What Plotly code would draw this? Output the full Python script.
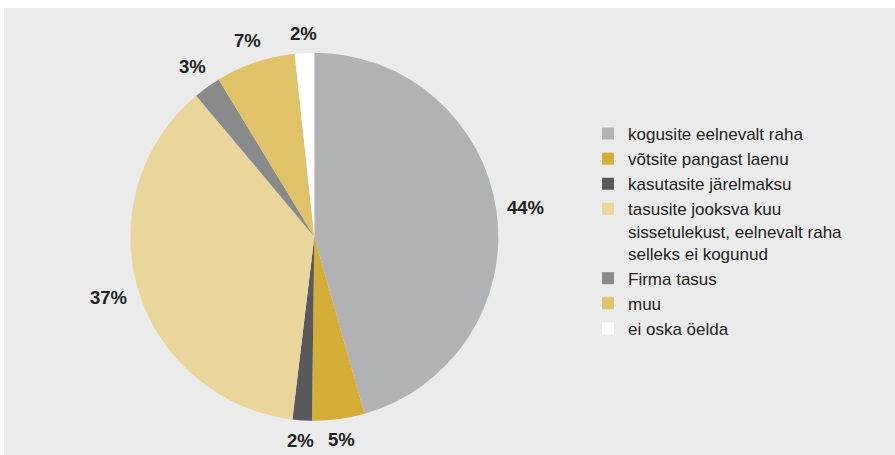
import math
import plotly.graph_objects as go

categories = [
    "kogusite eelnevalt raha",
    "võtsite pangast laenu",
    "kasutasite järelmaksu",
    "tasusite jooksva kuu<br>sissetulekust, eelnevalt raha<br>selleks ei kogunud",
    "Firma tasus",
    "muu",
    "ei oska öelda",
]
shares = [45.6, 4.6, 1.7, 37.0, 2.4, 7.0, 1.7]
shown_labels = ["44%", "5%", "2%", "37%", "3%", "7%", "2%"]
colors = ["#b1b2b3", "#d4ae37", "#59595b", "#ead69b", "#898a8b", "#e0c368", "#ffffff"]

W, H = 895, 455
BG = "#ebebeb"
LABEL_SIZE = 18.5

# pie placement (pixels)
CX, CY, R = 314.3, 236.7, 184.0
GAP = 10

fig = go.Figure()
fig.add_trace(go.Pie(
    labels=categories,
    values=shares,
    textinfo="none",
    sort=False,
    direction="clockwise",
    rotation=0,
    marker=dict(colors=colors, line=dict(width=0)),
    domain=dict(x=[(CX - R) / W, (CX + R) / W], y=[1 - (CY + R) / H, 1 - (CY - R) / H]),
    hoverinfo="skip",
))

# outside percentage labels at each slice's middle angle
total = sum(shares)
cum = 0.0
for share, txt in zip(shares, shown_labels):
    theta = 2 * math.pi * (cum + share / 2) / total
    cum += share
    n_digits = len(txt) - 1
    half_w = (0.556 * n_digits + 0.889) * LABEL_SIZE / 2
    half_h = 0.5 * LABEL_SIZE
    dist = R + GAP + half_w * abs(math.sin(theta)) + half_h * abs(math.cos(theta))
    px = CX + dist * math.sin(theta)
    py = CY - dist * math.cos(theta)
    fig.add_annotation(x=px / W, y=1 - py / H, xref="paper", yref="paper",
                       text=txt, showarrow=False, xanchor="center", yanchor="middle",
                       font=dict(family="Liberation Sans", size=LABEL_SIZE, color="#222222", weight="bold"))

fig.add_shape(type="rect", xref="paper", yref="paper",
              x0=4 / W, x1=1.01, y0=-0.01, y1=1 - 8 / H,
              fillcolor=BG, line=dict(width=0), layer="below")

fig.update_layout(
    width=W, height=H,
    margin=dict(l=0, r=0, t=0, b=0),
    paper_bgcolor="white",
    plot_bgcolor="white",
    font=dict(family="Liberation Sans", size=17, color="#222222"),
    legend=dict(x=588 / W, xanchor="left", y=1 - 116 / H, yanchor="top",
                bgcolor="rgba(0,0,0,0)", font=dict(size=17, color="#222222"),
                valign="top"),
    showlegend=True,
)

fig.write_html("out.html", config={"displayModeBar": False},
               post_script="document.body.style.margin='0';")
